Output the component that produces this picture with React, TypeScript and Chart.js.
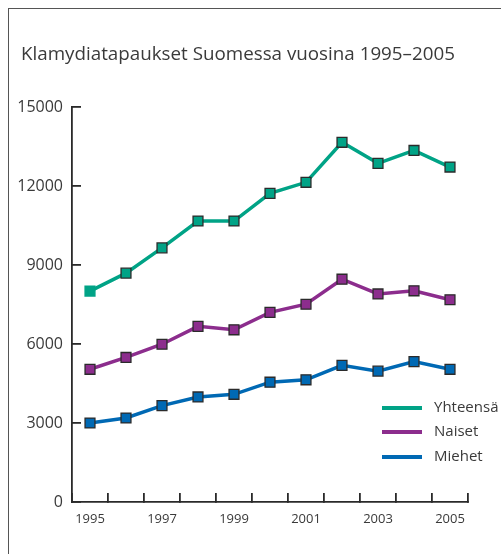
import React, { useEffect, useRef } from "react";
import { Chart, registerables } from "chart.js";

Chart.register(...registerables);

const years = ["1995", "1996", "1997", "1998", "1999", "2000", "2001", "2002", "2003", "2004", "2005"];
const xTickLabels = ["1995", "", "1997", "", "1999", "", "2001", "", "2003", "", "2005"];
const yTickValues = [0, 3000, 6000, 9000, 12000, 15000];
const seriesNames = ["Yhteensä", "Naiset", "Miehet"];
const yhteensa = [8010, 8690, 9650, 10670, 10670, 11720, 12140, 13660, 12860, 13350, 12720];
const naiset = [5040, 5490, 5990, 6670, 6540, 7200, 7510, 8460, 7900, 8020, 7680];
const miehet = [3000, 3190, 3660, 3990, 4090, 4550, 4640, 5190, 4970, 5330, 5040];
const seriesColors = ["#00a386", "#8c2d8d", "#0069b4"];
const title = "Klamydiatapaukset Suomessa vuosina 1995–2005";

const FONT = "'Open Sans', sans-serif";
const TEXT = "#3a3a3a";
const AXIS = "#2a2a2a";

const decorPlugin = {
  id: "decor",
  afterDraw(chart: any) {
    const ctx = chart.ctx;
    ctx.save();
    // title
    ctx.fillStyle = TEXT;
    ctx.font = `18.8px ${FONT}`;
    ctx.textAlign = "left";
    ctx.textBaseline = "alphabetic";
    ctx.fillText(title, 13, 51.5);
    // legend
    const lx = 374;
    const ly = [400, 424, 449];
    ctx.font = `15px ${FONT}`;
    ctx.textBaseline = "middle";
    chart.data.datasets.forEach((ds: any, i: number) => {
      ctx.strokeStyle = ds.borderColor;
      ctx.lineWidth = 4;
      ctx.beginPath();
      ctx.moveTo(lx, ly[i]);
      ctx.lineTo(lx + 40, ly[i]);
      ctx.stroke();
      ctx.fillStyle = TEXT;
      ctx.fillText(ds.label, lx + 52, ly[i]);
    });
    ctx.restore();
  },
};

export default function App() {
  const ref = useRef<HTMLCanvasElement | null>(null);
  useEffect(() => {
    if (!ref.current) return;
    const mk = (i: number, data: number[]) => ({
      label: seriesNames[i],
      data,
      borderColor: seriesColors[i],
      backgroundColor: seriesColors[i],
      borderWidth: 3.5,
      pointStyle: "rect",
      pointRadius: 7,
      pointBorderWidth: 1.3,
      pointBackgroundColor: seriesColors[i],
      pointBorderColor: data.map((_, j) => (i === 0 && j === 0 ? seriesColors[i] : "#2b2b2b")),
      tension: 0,
    });
    const chart = new Chart(ref.current, {
      type: "line",
      data: {
        labels: years,
        datasets: [mk(0, yhteensa), mk(1, naiset), mk(2, miehet)],
      },
      options: {
        responsive: false,
        animation: false,
        layout: { padding: { left: 0, right: 33, top: 99, bottom: 0 } },
        plugins: { legend: { display: false }, title: { display: false }, tooltip: { enabled: false } },
        scales: {
          x: {
            type: "category",
            offset: true,
            grid: {
              display: true,
              offset: true,
              drawOnChartArea: false,
              drawTicks: true,
              tickLength: -9,
              color: AXIS,
              lineWidth: 1.8,
            },
            border: { display: true, color: AXIS, width: 1.8 },
            ticks: {
              autoSkip: false,
              maxRotation: 0,
              padding: 18,
              color: TEXT,
              font: { family: FONT, size: 13 },
              callback: (_v: any, i: number) => xTickLabels[i],
            },
            afterFit: (s: any) => {
              s.height = 52;
            },
          },
          y: {
            min: 0,
            max: 15000,
            grid: {
              display: true,
              drawOnChartArea: false,
              drawTicks: true,
              tickLength: -9,
              color: AXIS,
              lineWidth: 1.8,
            },
            border: { display: true, color: AXIS, width: 1.8 },
            ticks: {
              padding: 18,
              color: TEXT,
              font: { family: FONT, size: 16 },
              callback: (v: any) => String(v),
            },
            afterBuildTicks: (s: any) => {
              s.ticks = yTickValues.map((v) => ({ value: v }));
            },
            afterFit: (s: any) => {
              s.width = 64;
            },
          },
        },
      },
      plugins: [decorPlugin],
    } as any);
    return () => chart.destroy();
  }, []);
  return (
    <div style={{ position: "fixed", left: 0, top: 0, width: "100vw", height: "100vh", overflow: "hidden", background: "#fff" }}>
      <div
        style={{
          position: "absolute",
          left: 8,
          top: 8,
          right: -10,
          bottom: -10,
          borderTop: "1.5px solid #555",
          borderLeft: "1.5px solid #555",
        }}
      />
      <canvas
        ref={ref}
        width={493}
        height={546}
        style={{ position: "absolute", left: 8, top: 8, width: 493, height: 546 }}
      />
    </div>
  );
}
